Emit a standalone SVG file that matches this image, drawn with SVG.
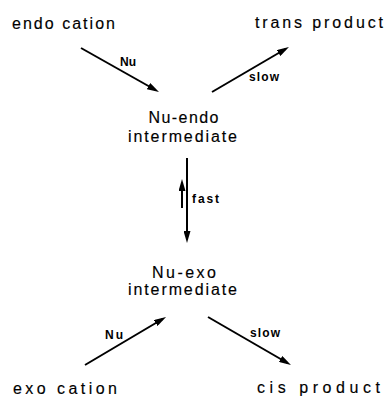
<svg xmlns="http://www.w3.org/2000/svg" width="385" height="397" viewBox="0 0 385 397">
<style>
.t{font-family:"Liberation Sans","DejaVu Sans",sans-serif;font-size:16px;fill:#000;stroke:#000;stroke-width:0.15}
.m{text-anchor:middle}
.l{font-family:"Liberation Sans","DejaVu Sans",sans-serif;font-size:12px;font-weight:bold;fill:#000}
.c{stroke:#000;stroke-width:2;fill:none}
</style>
<defs>
<marker id="ah" viewBox="0 0 12 7" markerWidth="12" markerHeight="7" refX="8" refY="3.5" orient="auto" markerUnits="userSpaceOnUse">
<path d="M0,0 L12,3.5 L0,7 Z" fill="#000"/>
</marker>
</defs>
<rect width="385" height="397" fill="#fff"/>
<g id="endo-cation"><text class="t" x="12" y="29" textLength="103" lengthAdjust="spacing">endo cation</text></g>
<g id="trans-product"><text class="t" x="255" y="28" textLength="128" lengthAdjust="spacing">trans product</text></g>
<g id="nu-endo"><text class="t m" x="183.5" y="123" textLength="70" lengthAdjust="spacing">Nu-endo</text><text class="t m" x="182.5" y="142" textLength="109" lengthAdjust="spacing">intermediate</text></g>
<g id="nu-exo"><text class="t m" x="184" y="278" textLength="64" lengthAdjust="spacing">Nu-exo</text><text class="t m" x="182.5" y="295" textLength="109" lengthAdjust="spacing">intermediate</text></g>
<g id="exo-cation"><text class="t" x="13" y="394" textLength="104" lengthAdjust="spacing">exo cation</text></g>
<g id="cis-product"><text class="t" x="257" y="393" textLength="123" lengthAdjust="spacing">cis product</text></g>
<g id="connectors">
<line class="c" x1="81" y1="48" x2="155.5" y2="90" marker-end="url(#ah)"/>
<line class="c" x1="212" y1="92" x2="285.5" y2="49" marker-end="url(#ah)"/>
<line class="c" x1="85" y1="365" x2="162.6" y2="319" marker-end="url(#ah)"/>
<line class="c" x1="208" y1="317" x2="287.5" y2="363" marker-end="url(#ah)"/>
<line class="c" x1="187" y1="158" x2="187" y2="239" marker-end="url(#ah)"/>
<line class="c" x1="182" y1="208" x2="182" y2="183" marker-end="url(#ah)"/>
<text class="l" x="120" y="66" textLength="16" lengthAdjust="spacing">Nu</text>
<text class="l" x="249" y="81" textLength="30" lengthAdjust="spacing">slow</text>
<text class="l" x="192" y="203" textLength="27" lengthAdjust="spacing">fast</text>
<text class="l" x="105" y="339" textLength="18" lengthAdjust="spacing">Nu</text>
<text class="l" x="250" y="337" textLength="30" lengthAdjust="spacing">slow</text>
</g>
</svg>
